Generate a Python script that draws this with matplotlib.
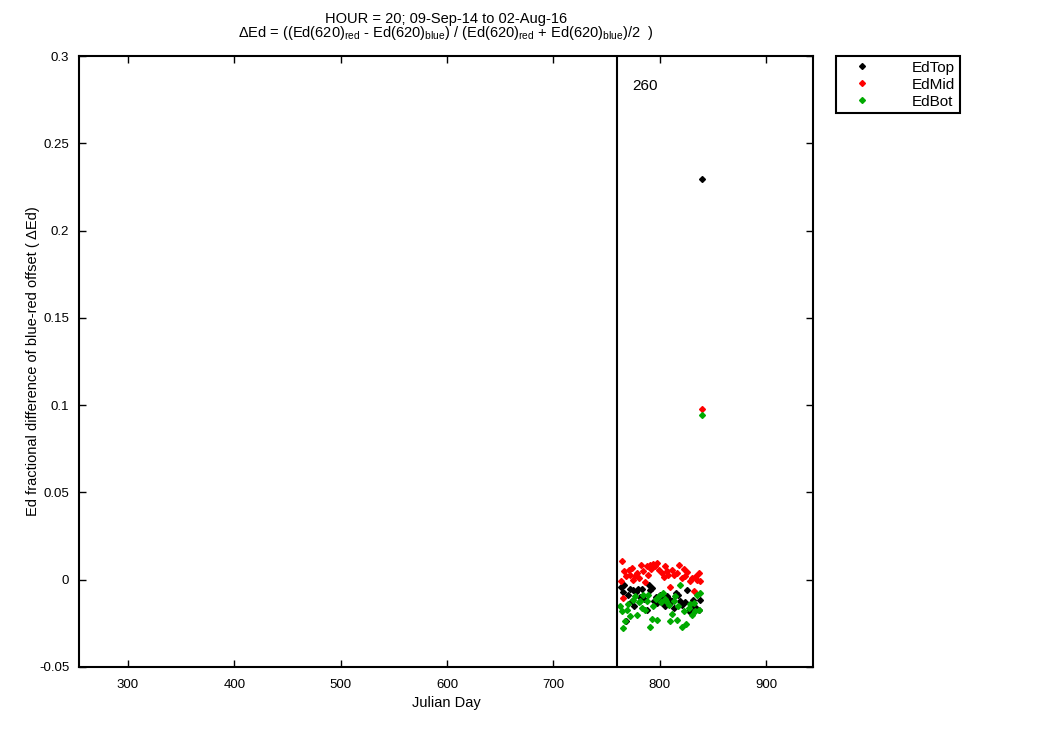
import matplotlib
matplotlib.use('Agg')
import matplotlib.pyplot as plt
import numpy as np

plt.rcParams['font.family'] = ['Liberation Sans', 'DejaVu Sans']
plt.rcParams['mathtext.fontset'] = 'custom'
plt.rcParams['mathtext.rm'] = 'Liberation Sans'
plt.rcParams['mathtext.it'] = 'Liberation Sans'

# EdTop (black)
top_day = [763.8, 765.2, 766.5, 768.4, 770.0, 771.5, 773.5, 775.2, 776.1, 778.0, 779.9, 781.0, 783.1,
           785.5, 787.8, 790.2, 791.0, 792.5, 794.9, 796.0, 797.2, 798.7, 800.5, 801.9, 803.4,
           805.0, 806.6, 808.5, 811.3, 813.0, 815.4, 817.5, 819.0, 820.7, 823.8, 826.0, 827.0,
           828.5, 830.0, 831.6, 834.0, 836.4, 838.0, 839.8]
top_val = [-0.0040, -0.0071, -0.0029, -0.0239, -0.0090, -0.0054, -0.0120, -0.0057, -0.0153, -0.0070,
           -0.0052, -0.0100, -0.0054, -0.0110, -0.0172, -0.0029, -0.0060, -0.0048, -0.0124, -0.0100,
           -0.0134, -0.0115, -0.0090, -0.0134, -0.0105, -0.0150, -0.0092, -0.0110, -0.0124, -0.0160,
           -0.0076, -0.0086, -0.0120, -0.0143, -0.0130, -0.0057, -0.0182, -0.0172, -0.0150, -0.0115,
           -0.0160, -0.0172, -0.0118, 0.2295]

# EdMid (red)
mid_day = [763.3, 764.9, 765.8, 766.5, 768.5, 770.6, 772.0, 773.6, 775.2, 776.8, 779.0, 780.5,
           782.2, 784.1, 786.2, 787.8, 789.3, 790.9, 792.0, 793.4, 795.6, 797.8, 799.6, 801.9,
           803.5, 805.0, 806.6, 808.0, 809.7, 811.3, 813.5, 816.0, 818.2, 820.7, 822.5, 823.8,
           826.0, 827.9, 830.2, 832.3, 833.9, 835.0, 836.4, 838.0, 839.8]
mid_val = [-0.0008, 0.0109, -0.0105, 0.0048, 0.0020, 0.0057, 0.0029, 0.0065, 0.0000, 0.0019, 0.0038,
           0.0010, 0.0086, 0.0048, -0.0015, 0.0076, 0.0029, 0.0086, 0.0060, 0.0092, 0.0076, 0.0096,
           0.0057, 0.0038, 0.0015, 0.0080, 0.0048, 0.0025, -0.0042, 0.0057, 0.0029, 0.0038, 0.0086,
           0.0010, 0.0060, 0.0019, 0.0044, -0.0010, 0.0010, -0.0067, 0.0019, 0.0000, 0.0038, -0.0010,
           0.0978]

# EdBot (green)
bot_day = [762.7, 764.0, 765.8, 767.4, 769.0, 770.5, 772.1, 774.6, 776.8, 778.4, 780.0, 781.5,
           783.0, 784.6, 786.2, 787.5, 789.3, 790.9, 792.5, 794.0, 796.0, 797.8, 799.6, 801.5,
           803.4, 804.5, 806.0, 808.2, 809.1, 811.3, 813.0, 814.4, 816.0, 817.5, 819.1, 820.7,
           822.5, 824.8, 827.0, 828.5, 830.2, 832.3, 833.5, 834.9, 836.4, 838.0, 839.8]
bot_val = [-0.0153, -0.0180, -0.0277, -0.0239, -0.0172, -0.0140, -0.0210, -0.0115, -0.0096, -0.0200,
           -0.0130, -0.0124, -0.0160, -0.0086, -0.0172, -0.0120, -0.0086, -0.0271, -0.0225, -0.0153,
           -0.0110, -0.0229, -0.0096, -0.0130, -0.0076, -0.0110, -0.0124, -0.0143, -0.0239, -0.0195,
           -0.0120, -0.0096, -0.0229, -0.0150, -0.0029, -0.0271, -0.0180, -0.0252, -0.0162, -0.0140,
           -0.0200, -0.0134, -0.0180, -0.0086, -0.0172, -0.0076, 0.0944]

start_day = 760
start_label = '260'

fig = plt.figure(figsize=(10.5, 7.5), dpi=100)
ax = fig.add_axes([0.0752, 0.1107, 0.6991, 0.8146])

ax.plot(top_day, top_val, 'D', color='k', markersize=3, label='EdTop')
ax.plot(mid_day, mid_val, 'D', color='r', markersize=3, label='EdMid')
ax.plot(bot_day, bot_val, 'D', color='#00aa00', markersize=3, label='EdBot')

ax.axvline(start_day, color='k', linewidth=1.5)
ax.text(start_day + 14, 0.283, start_label, fontsize=11, va='center')

ax.set_xlim(254, 944)
ax.set_ylim(-0.05, 0.3)
ax.set_xticks([300, 400, 500, 600, 700, 800, 900])
ax.set_yticks([-0.05, 0, 0.05, 0.1, 0.15, 0.2, 0.25, 0.3])
ax.set_yticklabels(['-0.05', '0', '0.05', '0.1', '0.15', '0.2', '0.25', '0.3'])
ax.tick_params(direction='in', top=True, right=True, length=5, width=1, labelsize=9.5)
ax.tick_params(axis='x', pad=9)
ax.tick_params(axis='y', pad=7)
for s in ax.spines.values():
    s.set_linewidth(1.5)

ax.set_xlabel('Julian Day', fontsize=10.5, labelpad=3)
ax.set_ylabel('Ed fractional difference of blue-red offset ( ΔEd)', fontsize=10.5, labelpad=-1)
ax.set_title('HOUR = 20; 09-Sep-14 to 02-Aug-16\n'
             r'ΔEd = ((Ed(620)$_{\mathrm{red}}$ - Ed(620)$_{\mathrm{blue}}$) / '
             r'(Ed(620)$_{\mathrm{red}}$ + Ed(620)$_{\mathrm{blue}}$)/2  )',
             fontsize=10.5, linespacing=0.85, pad=14)

leg = ax.legend(loc='upper left', bbox_to_anchor=(1.031, 1.0), fontsize=11, fancybox=False,
                edgecolor='k', framealpha=1, borderaxespad=0, markerscale=1,
                handletextpad=1.9, borderpad=0.3, labelspacing=0.2, handlelength=2.8)
leg.get_frame().set_linewidth(1.5)

plt.savefig('out.png', dpi=100)
